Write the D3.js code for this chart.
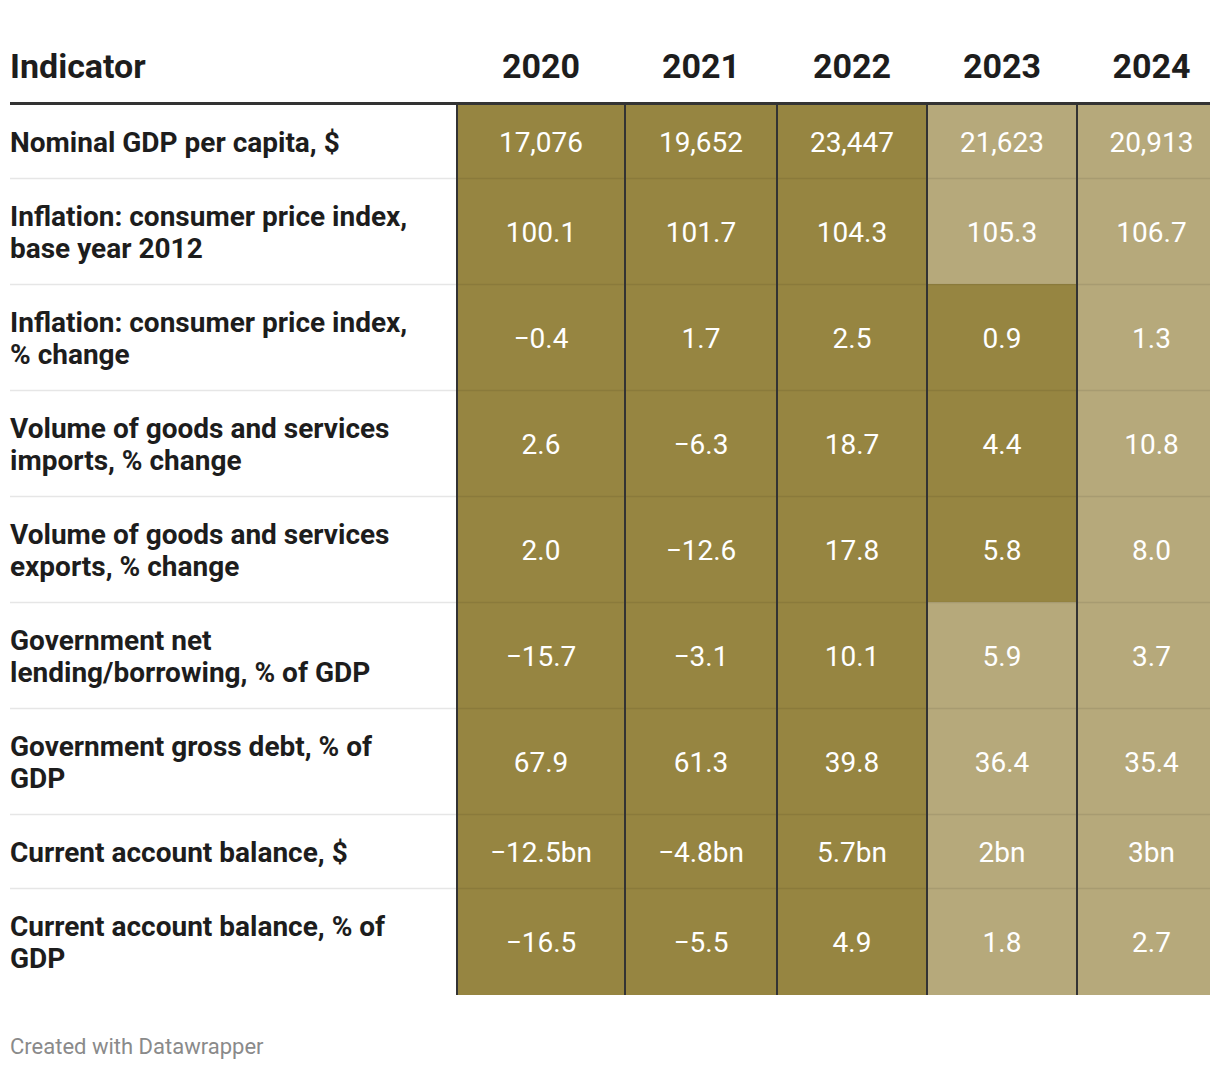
<!DOCTYPE html>
<html>
<head>
<meta charset="utf-8">
<script src="https://cdn.jsdelivr.net/npm/d3@7"></script>
<style>
  html, body { margin: 0; padding: 0; background: #fff; }
  svg { display: block; font-family: Roboto, "Noto Sans", sans-serif; }
</style>
</head>
<body>
<svg id="chart" width="1220" height="1070"></svg>
<script>
// ---------- DATA ----------
const years = ["2020", "2021", "2022", "2023", "2024"];
const indicators = [
  "Nominal GDP per capita, $",
  "Inflation: consumer price index, base year 2012",
  "Inflation: consumer price index, % change",
  "Volume of goods and services imports, % change",
  "Volume of goods and services exports, % change",
  "Government net lending/borrowing, % of GDP",
  "Government gross debt, % of GDP",
  "Current account balance, $",
  "Current account balance, % of GDP"
];
const values2020 = ["17,076", "100.1", "\u22120.4", "2.6", "2.0", "\u221215.7", "67.9", "\u221212.5bn", "\u221216.5"];
const values2021 = ["19,652", "101.7", "1.7", "\u22126.3", "\u221212.6", "\u22123.1", "61.3", "\u22124.8bn", "\u22125.5"];
const values2022 = ["23,447", "104.3", "2.5", "18.7", "17.8", "10.1", "39.8", "5.7bn", "4.9"];
const values2023 = ["21,623", "105.3", "0.9", "4.4", "5.8", "5.9", "36.4", "2bn", "1.8"];
const values2024 = ["20,913", "106.7", "1.3", "10.8", "8.0", "3.7", "35.4", "3bn", "2.7"];
// shading category per cell: 1 = dark, 0 = light
const shade2020 = [1, 1, 1, 1, 1, 1, 1, 1, 1];
const shade2021 = [1, 1, 1, 1, 1, 1, 1, 1, 1];
const shade2022 = [1, 1, 1, 1, 1, 1, 1, 1, 1];
const shade2023 = [0, 0, 1, 1, 1, 0, 0, 0, 0];
const shade2024 = [0, 0, 0, 0, 0, 0, 0, 0, 0];
const footer = "Created with Datawrapper";

// ---------- LAYOUT ----------
const left = 10, right = 1210;
const labelColRight = 457;
const colWidths = [168, 152, 150, 150, 149];
const headerBaseline = 78;
const headerLineY = 103.5;
const tableTop = 105;
const rowHeightOne = 74, rowHeightTwo = 106;
const lineHeight = 32;
const labelFont = 28, valueFont = 28, headerFont = 34;
const labelMaxWidth = 414;
const darkFill = "#968541", lightFill = "#b6a97b";

const valuesByYear = [values2020, values2021, values2022, values2023, values2024];
const shadeByYear = [shade2020, shade2021, shade2022, shade2023, shade2024];

const svg = d3.select("#chart");

// column edges via ordinal scales
const edges = d3.cumsum([labelColRight, ...colWidths]);
const xLeft = d3.scaleOrdinal(years, edges.slice(0, years.length));
const xWidth = d3.scaleOrdinal(years, colWidths);
const fillW = d => Math.min(xWidth(d), right - xLeft(d));
const fillScale = d3.scaleOrdinal([1, 0], [darkFill, lightFill]);

// ---------- HEADER ----------
svg.append("text")
  .attr("x", left).attr("y", headerBaseline)
  .attr("font-size", headerFont).attr("font-weight", 700).attr("fill", "#1d1d1d")
  .text("Indicator");

svg.selectAll("text.year").data(years).join("text")
  .attr("class", "year")
  .attr("x", d => xLeft(d) + xWidth(d) / 2)
  .attr("y", headerBaseline)
  .attr("text-anchor", "middle")
  .attr("font-size", headerFont).attr("font-weight", 700).attr("fill", "#1d1d1d")
  .text(d => d);

// ---------- WRAP LABELS ----------
const measure = svg.append("text").attr("font-size", labelFont).attr("font-weight", 700).attr("visibility", "hidden");
function wrap(str) {
  const words = str.split(" ");
  const lines = [];
  let cur = "";
  for (const w of words) {
    const test = cur ? cur + " " + w : w;
    measure.text(test);
    if (cur && measure.node().getComputedTextLength() > labelMaxWidth) {
      lines.push(cur); cur = w;
    } else cur = test;
  }
  if (cur) lines.push(cur);
  return lines;
}
const labelLines = indicators.map(wrap);
measure.remove();

const rowHeights = labelLines.map(l => l.length > 1 ? rowHeightTwo : rowHeightOne);
const rowTops = [tableTop, ...d3.cumsum(rowHeights).map(v => v + tableTop)];
const y = d3.scaleOrdinal(indicators, rowTops.slice(0, indicators.length));
const h = d3.scaleOrdinal(indicators, rowHeights);
const tableBottom = rowTops[rowTops.length - 1];

// ---------- CELLS ----------
const cells = [];
indicators.forEach((ind, r) => {
  years.forEach((yr, c) => {
    cells.push({ ind, yr, value: valuesByYear[c][r], shade: shadeByYear[c][r] });
  });
});

svg.selectAll("rect.cell").data(cells).join("rect")
  .attr("class", "cell")
  .attr("x", d => xLeft(d.yr))
  .attr("y", d => y(d.ind) - 1)
  .attr("width", d => fillW(d.yr))
  .attr("height", d => h(d.ind) + 1)
  .attr("fill", d => fillScale(d.shade));

// row separators
const seps = indicators.slice(1);
svg.selectAll("line.sepL").data(seps).join("line")
  .attr("class", "sepL")
  .attr("x1", left).attr("x2", labelColRight)
  .attr("y1", d => y(d) - 0.5).attr("y2", d => y(d) - 0.5)
  .attr("stroke", "#e6e6e6").attr("stroke-width", 1.5);
svg.selectAll("line.sepC").data(seps).join("line")
  .attr("class", "sepC")
  .attr("x1", labelColRight).attr("x2", right)
  .attr("y1", d => y(d) - 0.5).attr("y2", d => y(d) - 0.5)
  .attr("stroke", "rgba(0,0,0,0.08)").attr("stroke-width", 1.5);

// cell values
svg.selectAll("text.val").data(cells).join("text")
  .attr("class", "val")
  .attr("x", d => xLeft(d.yr) + xWidth(d.yr) / 2)
  .attr("y", d => y(d.ind) + h(d.ind) / 2)
  .attr("dy", "0.36em")
  .attr("text-anchor", "middle")
  .attr("font-size", valueFont).attr("fill", "#ffffff")
  .text(d => d.value);

// vertical borders
svg.selectAll("line.vb").data(years).join("line")
  .attr("class", "vb")
  .attr("x1", d => xLeft(d)).attr("x2", d => xLeft(d))
  .attr("y1", tableTop).attr("y2", tableBottom)
  .attr("stroke", "#333").attr("stroke-width", 2);

// header line
svg.append("line")
  .attr("x1", left).attr("x2", right)
  .attr("y1", headerLineY).attr("y2", headerLineY)
  .attr("stroke", "#333").attr("stroke-width", 3);

// row labels
const lab = svg.selectAll("text.lab").data(indicators).join("text")
  .attr("class", "lab")
  .attr("x", left)
  .attr("font-size", labelFont).attr("font-weight", 700).attr("fill", "#1d1d1d");
lab.each(function(d, i) {
  const lines = labelLines[i];
  const mid = y(d) + h(d) / 2;
  const first = mid - (lines.length - 1) * lineHeight / 2;
  d3.select(this).selectAll("tspan").data(lines).join("tspan")
    .attr("x", left)
    .attr("y", (l, k) => first + k * lineHeight)
    .attr("dy", "0.36em")
    .text(l => l);
});

// footer
svg.append("text")
  .attr("x", left).attr("y", 1054)
  .attr("font-size", 22).attr("fill", "#8a8a8a")
  .text(footer);
</script>
</body>
</html>
